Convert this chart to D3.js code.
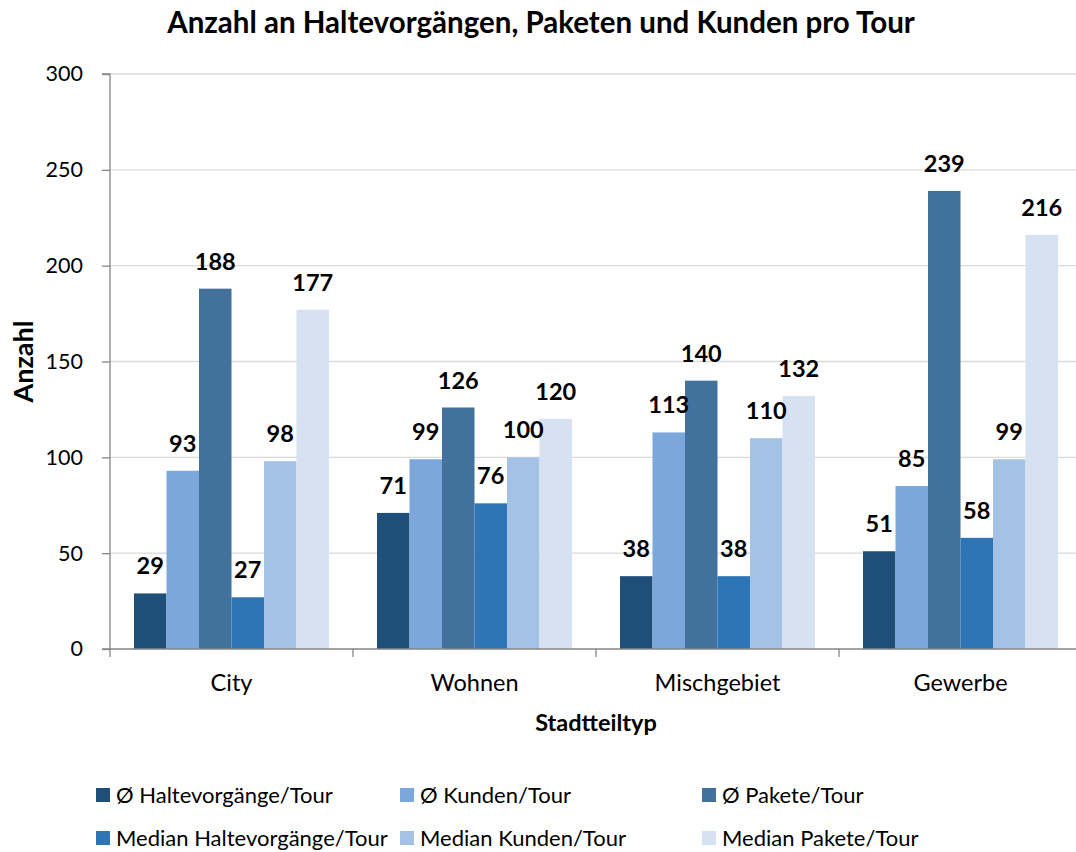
<!DOCTYPE html>
<html><head><meta charset="utf-8">
<script src="https://cdn.jsdelivr.net/npm/d3@7"></script>
<style>
html,body{margin:0;padding:0;background:#fff;}
svg{display:block;font-family:Lato,"Open Sans",sans-serif;}
</style></head>
<body>
<svg id="chart" width="1076" height="852"></svg>
<script>
const categories = ["City", "Wohnen", "Mischgebiet", "Gewerbe"];
const seriesNames = ["Ø Haltevorgänge/Tour", "Ø Kunden/Tour", "Ø Pakete/Tour", "Median Haltevorgänge/Tour", "Median Kunden/Tour", "Median Pakete/Tour"];
const haltAvg   = [29, 71, 38, 51];
const kundenAvg = [93, 99, 113, 85];
const paketeAvg = [188, 126, 140, 239];
const haltMed   = [27, 76, 38, 58];
const kundenMed = [98, 100, 110, 99];
const paketeMed = [177, 120, 132, 216];
const yTicks = [0, 50, 100, 150, 200, 250, 300];
const colors = ["#1F4E79", "#7BA7DA", "#41719C", "#2E75B6", "#A4C2E5", "#D6E1F1"];

(function () {
const seriesValues = [haltAvg, kundenAvg, paketeAvg, haltMed, kundenMed, paketeMed];
const svg = d3.select("#chart");
const mLeft = 110, mRight = 1082, mTop = 74, mBottom = 649;
const FONT = "Lato, 'Open Sans', sans-serif";

const x0 = d3.scaleBand().domain(categories).range([mLeft, mRight]).paddingInner(0).paddingOuter(0);
const gw = x0.bandwidth();
const x1 = d3.scaleBand().domain(d3.range(seriesNames.length)).range([24, gw - 24]).padding(0);
const y = d3.scaleLinear().domain([0, 300]).range([mBottom, mTop]);

// gridlines
svg.append("g").selectAll("line").data(yTicks.filter(d => d > 0)).join("line")
  .attr("x1", mLeft).attr("x2", mRight)
  .attr("y1", d => y(d)).attr("y2", d => y(d))
  .attr("stroke", "#D9D9D9").attr("stroke-width", 1.3);

// flatten data
const cells = [];
categories.forEach((cat, ci) => {
  seriesValues.forEach((vals, si) => cells.push({ cat, si, v: vals[ci] }));
});

// bars
svg.append("g").selectAll("rect").data(cells).join("rect")
  .attr("x", d => x0(d.cat) + x1(d.si)).attr("width", x1.bandwidth())
  .attr("y", d => y(d.v)).attr("height", d => y(0) - y(d.v))
  .attr("fill", d => colors[d.si]);

// labels (drawn over all bars)
svg.append("g").selectAll("text").data(cells).join("text")
  .attr("x", d => x0(d.cat) + x1(d.si) + x1.bandwidth() / 2).attr("y", d => y(d.v) - 19)
  .attr("text-anchor", "middle").attr("font-weight", "bold").attr("font-size", 23.5)
  .attr("fill", "#000").text(d => d.v);

// y axis
const yAxis = d3.axisLeft(y).tickValues(yTicks).tickSize(8).tickPadding(19);
const ya = svg.append("g").attr("transform", `translate(${mLeft},0)`).call(yAxis);
ya.select(".domain").attr("stroke", "#868686").attr("stroke-width", 1.3).attr("d", `M-8,${mTop}H0V${mBottom}H-8`);
ya.selectAll(".tick line").attr("stroke", "#868686").attr("stroke-width", 1.3);
ya.selectAll(".tick text").attr("font-size", 21.5).attr("fill", "#000").attr("font-family", FONT);

// x axis
const xa = svg.append("g").attr("transform", `translate(0,${mBottom})`)
  .call(d3.axisBottom(x0).tickSize(0).tickPadding(25));
xa.select(".domain").attr("stroke", "#868686").attr("stroke-width", 1.3).attr("d", `M${mLeft},0H${mRight}`);
xa.selectAll(".tick text").attr("font-size", 23.5).attr("fill", "#000").attr("font-family", FONT);
const boundaries = categories.map(c => x0(c)).concat([mRight]);
xa.append("g").selectAll("line").data(boundaries).join("line")
  .attr("x1", d => d).attr("x2", d => d).attr("y1", 0).attr("y2", 8)
  .attr("stroke", "#868686").attr("stroke-width", 1.3);

// title
svg.append("text").attr("x", 541).attr("y", 33).attr("text-anchor", "middle")
  .attr("font-weight", "bold").attr("font-size", 29.5).text("Anzahl an Haltevorgängen, Paketen und Kunden pro Tour");

// axis titles
svg.append("text").attr("transform", `translate(33,${(mTop + mBottom) / 2}) rotate(-90)`)
  .attr("text-anchor", "middle").attr("font-weight", "bold").attr("font-size", 27).text("Anzahl");
svg.append("text").attr("x", (mLeft + mRight) / 2).attr("y", 731).attr("text-anchor", "middle")
  .attr("font-weight", "bold").attr("font-size", 23.5).text("Stadtteiltyp");

// legend
const legendPos = [[96, 795], [400, 795], [702, 795], [96, 838], [400, 838], [702, 838]];
const lg = svg.append("g").selectAll("g").data(seriesNames).join("g")
  .attr("transform", (d, i) => `translate(${legendPos[i][0]},${legendPos[i][1]})`);
lg.append("rect").attr("x", 0).attr("y", -7).attr("width", 14).attr("height", 14).attr("fill", (d, i) => colors[i]);
lg.append("text").attr("x", 20).attr("y", 7.5).attr("font-size", 22).attr("fill", "#000").text(d => d);
})();
</script>
</body></html>
